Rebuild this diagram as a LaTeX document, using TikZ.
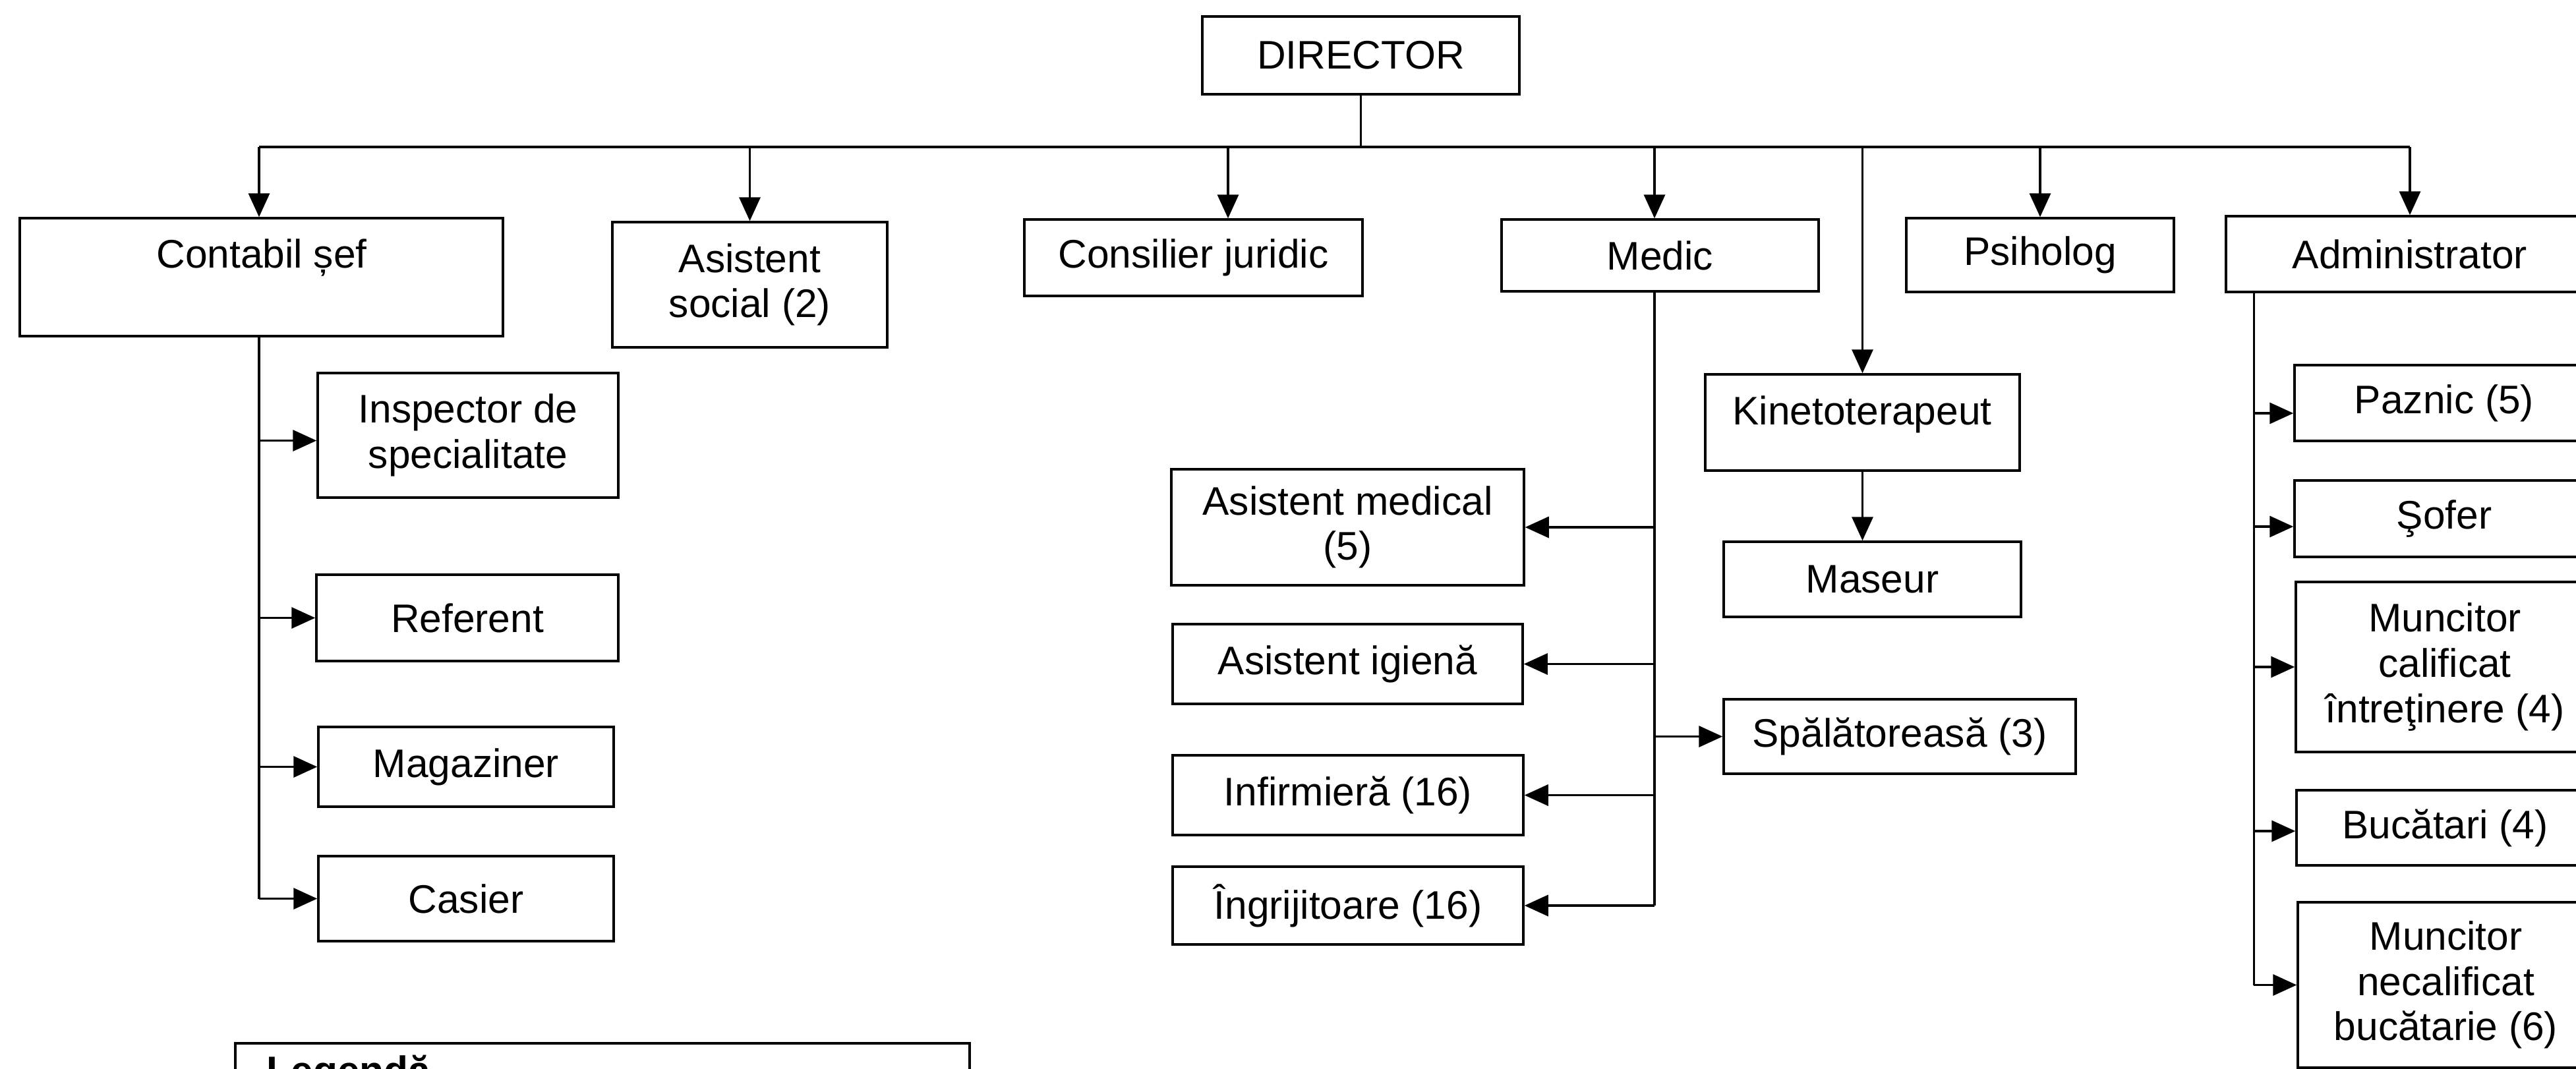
\documentclass[tikz,border=0pt]{standalone}
\usepackage{fontspec}
\setmainfont{Liberation Sans}
\usetikzlibrary{arrows.meta}
\tikzset{
  orgfont/.style={font=\fontsize{17.2}{19.5}\selectfont},
  box/.style={draw, line width=0.035cm, rectangle, inner sep=0pt, align=center, orgfont},
  txt/.style={inner sep=0pt, align=center, orgfont},
  conn/.style={line width=0.035cm},
  arr/.style={conn, -{Triangle[length=0.36cm,width=0.32cm]}},
}
\newcommand{\orgbox}[6]{\node[box, minimum width=#4cm, minimum height=#5cm] (#1) at (#2,#3) {#6};}
\begin{document}
\begin{tikzpicture}
\useasboundingbox (0,0) rectangle (39.08,-16.21);
\fill[white] (0,0) rectangle (39.08,-16.21);
\clip (0,0) rectangle (39.08,-16.21);

% top level
\orgbox{director}{20.645}{-0.84}{4.81}{1.18}{DIRECTOR}
\orgbox{contabil}{3.965}{-4.205}{7.33}{1.79}{}
\node[txt] (contabil-t) at (3.97,-3.91) {Contabil șef};
\orgbox{asoc}{11.375}{-4.32}{4.17}{1.90}{Asistent\\social (2)}
\orgbox{consilier}{18.105}{-3.91}{5.13}{1.16}{Consilier juridic}
\orgbox{medic}{25.185}{-3.875}{4.81}{1.09}{Medic}
\orgbox{psiholog}{30.95}{-3.87}{4.06}{1.12}{Psiholog}
\orgbox{admin}{36.56}{-3.855}{5.58}{1.15}{Administrator}

% contabil column
\orgbox{insp}{7.10}{-6.605}{4.56}{1.89}{Inspector de\\specialitate}
\orgbox{referent}{7.09}{-9.375}{4.58}{1.31}{Referent}
\orgbox{magaziner}{7.07}{-11.635}{4.48}{1.21}{Magaziner}
\orgbox{casier}{7.07}{-13.635}{4.48}{1.29}{Casier}

% medic column
\orgbox{amed}{20.445}{-8.00}{5.35}{1.76}{Asistent medical\\(5)}
\orgbox{aig}{20.445}{-10.075}{5.31}{1.21}{Asistent igienă}
\orgbox{infirm}{20.45}{-12.065}{5.32}{1.21}{Infirmieră (16)}
\orgbox{ingr}{20.45}{-13.74}{5.32}{1.18}{Îngrijitoare (16)}
\orgbox{spal}{28.82}{-11.175}{5.34}{1.13}{Spălătoreasă (3)}

% kineto
\orgbox{kineto}{28.255}{-6.41}{4.77}{1.46}{}
\node[txt] (kineto-t) at (28.25,-6.29) {Kinetoterapeut};
\orgbox{maseur}{28.405}{-8.79}{4.51}{1.14}{Maseur}

% admin column
\orgbox{paznic}{37.08}{-6.115}{4.54}{1.15}{Paznic (5)}
\orgbox{sofer}{37.08}{-7.87}{4.54}{1.16}{Şofer}
\orgbox{mcal}{37.09}{-10.12}{4.52}{2.58}{Muncitor\\calificat\\întreţinere (4)}
\orgbox{bucatari}{37.095}{-12.56}{4.51}{1.14}{Bucătari (4)}
\orgbox{mnec}{37.105}{-14.945}{4.49}{2.51}{Muncitor\\necalificat\\bucătarie (6)}

% legend
\node[draw, line width=0.035cm, rectangle, inner sep=0pt, minimum width=11.14cm, minimum height=2cm, anchor=north west] (legend) at (3.55,-15.81) {};
\node[txt, font=\fontsize{17.2}{19.5}\selectfont\bfseries, anchor=base west] (legend-t) at (4.04,-16.45) {Legendă};

% bus
\coordinate (bus) at (20.65,-2.23);
\draw[conn] (director.south) -- (director.south |- bus);
\draw[conn] ([xshift=-0.035cm]contabil.north |- bus) -- (admin.north |- bus);
\draw[arr] ([xshift=-0.035cm]contabil.north |- bus) -- ([xshift=-0.035cm]contabil.north);
\draw[arr] (asoc.north |- bus) -- (asoc.north);
\draw[arr] ([xshift=0.525cm]consilier.north |- bus) -- ([xshift=0.525cm]consilier.north);
\draw[arr] ([xshift=-0.085cm]medic.north |- bus) -- ([xshift=-0.085cm]medic.north);
\draw[arr] (kineto.north |- bus) -- (kineto.north);
\draw[arr] (psiholog.north |- bus) -- (psiholog.north);
\draw[arr] (admin.north |- bus) -- (admin.north);

% contabil stem
\coordinate (ctop) at ([xshift=-0.035cm]contabil.south);
\draw[conn] (ctop) -- (ctop |- casier.west);
\draw[arr] (ctop |- insp.west) ++(0,-0.08) -- ([yshift=-0.08cm]insp.west);
\draw[arr] (ctop |- referent.west) -- (referent.west);
\draw[arr] (ctop |- magaziner.west) -- (magaziner.west);
\draw[arr] (ctop |- casier.west) -- (casier.west);

% medic stem
\coordinate (mtop) at ([xshift=-0.085cm]medic.south);
\draw[conn] (mtop) -- (mtop |- ingr.east);
\draw[arr] (mtop |- amed.east) -- (amed.east);
\draw[arr] (mtop |- aig.east) -- (aig.east);
\draw[arr] (mtop |- infirm.east) -- (infirm.east);
\draw[arr] (mtop |- ingr.east) -- (ingr.east);
\draw[arr] (mtop |- spal.west) -- (spal.west);

% kineto -> maseur
\draw[arr] (kineto.south) -- (kineto.south |- maseur.north);

% admin stem
\coordinate (atop) at ([xshift=0.44cm]admin.south west);
\draw[conn] (atop) -- (atop |- mnec.west);
\draw[arr] ([yshift=-0.155cm]atop |- paznic.west) -- ([yshift=-0.155cm]paznic.west);
\draw[arr] ([yshift=-0.12cm]atop |- sofer.west) -- ([yshift=-0.12cm]sofer.west);
\draw[arr] (atop |- mcal.west) -- (mcal.west);
\draw[arr] ([yshift=-0.05cm]atop |- bucatari.west) -- ([yshift=-0.05cm]bucatari.west);
\draw[arr] (atop |- mnec.west) -- (mnec.west);
\end{tikzpicture}
\end{document}
